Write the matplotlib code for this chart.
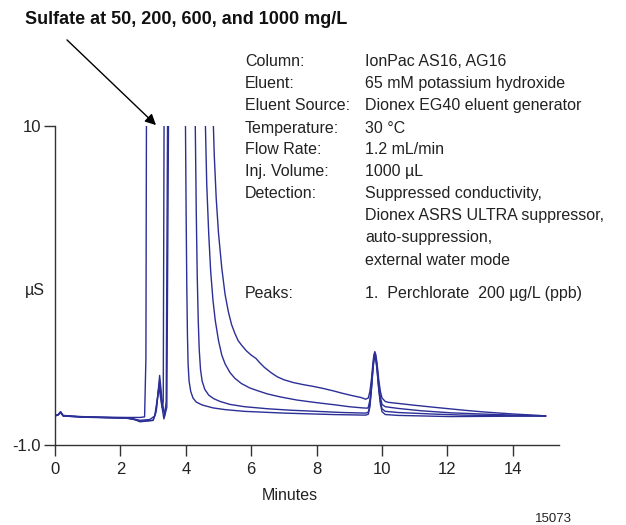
import matplotlib
matplotlib.use('Agg')
import matplotlib.pyplot as plt

plt.rcParams['font.family'] = ['Liberation Sans', 'DejaVu Sans']

# ---- data (minutes, uS) ----
t_1000 = [0.0, 0.1, 0.17, 0.25, 0.8, 1.5, 2.2, 2.6, 2.74, 2.78, 2.8,
          4.80, 4.83, 4.87, 4.93, 5.0, 5.1, 5.2, 5.3, 5.4, 5.5, 5.6, 5.7,
          5.85, 6.0, 6.15, 6.25, 6.4, 6.6, 6.8, 7.0, 7.3, 7.6, 7.9, 8.2,
          8.5, 8.8, 9.1, 9.35, 9.5, 9.58, 9.63, 9.68, 9.72, 9.75, 9.78,
          9.81, 9.85, 9.9, 9.95, 10.0, 10.1, 10.2, 10.6, 11.0, 11.6, 12.5,
          13.1, 14.0, 14.8, 15.0]
y_1000 = [0.02, 0.05, 0.15, 0.02, -0.02, -0.04, -0.05, -0.05, -0.03, 2.0, 12,
          12, 10.5, 9.0, 7.5, 6.3, 5.1, 4.2, 3.6, 3.15, 2.85, 2.6, 2.45,
          2.25, 2.1, 1.98, 1.85, 1.68, 1.5, 1.35, 1.25, 1.15, 1.08, 1.02, 0.95,
          0.87, 0.78, 0.7, 0.64, 0.58, 0.62, 0.85, 1.3, 1.8, 2.1, 2.22,
          2.12, 1.8, 1.25, 0.85, 0.62, 0.5, 0.47, 0.42, 0.37, 0.3, 0.2,
          0.14, 0.07, 0.02, 0.0]

t_600 = [0.0, 0.1, 0.17, 0.25, 0.8, 1.5, 2.2, 2.4, 2.6, 2.9, 3.05, 3.13,
         3.2, 3.27, 3.31, 3.34, 4.57, 4.60, 4.64, 4.7, 4.76, 4.83, 4.9,
         5.0, 5.1, 5.2, 5.35, 5.5, 5.7, 5.95, 6.2, 6.5, 6.88, 7.4, 8.0,
         8.6, 9.0, 9.4, 9.55, 9.58, 9.63, 9.68, 9.72, 9.75, 9.78, 9.81,
         9.85, 9.9, 9.95, 10.0, 10.1, 10.5, 11.2, 12.1, 13.0, 14.0, 15.0]
y_600 = [0.0, 0.04, 0.13, 0.0, -0.03, -0.05, -0.07, -0.1, -0.15, -0.12, 0.0, 0.6,
         1.2, 0.3, 0.5, 12, 12, 10, 8.0, 6.3, 5.0, 4.0, 3.3,
         2.6, 2.1, 1.8, 1.5, 1.3, 1.12, 0.97, 0.87, 0.76, 0.66, 0.55, 0.46,
         0.38, 0.32, 0.28, 0.27, 0.3, 0.55, 1.1, 1.65, 2.0, 2.15, 2.05,
         1.7, 1.1, 0.65, 0.4, 0.32, 0.26, 0.18, 0.11, 0.07, 0.03, 0.0]

t_200 = [0.0, 0.1, 0.17, 0.25, 0.8, 1.5, 2.2, 2.4, 2.6, 3.0, 3.1, 3.2,
         3.27, 3.35, 3.4, 3.45, 4.26, 4.29, 4.32, 4.35, 4.38, 4.41, 4.45,
         4.5, 4.58, 4.7, 4.85, 5.05, 5.35, 5.8, 6.5, 7.2, 8.0, 8.8, 9.5,
         9.58, 9.63, 9.68, 9.72, 9.75, 9.78, 9.81, 9.85, 9.9, 9.95, 10.0,
         10.1, 10.5, 11.5, 12.5, 15.0]
y_200 = [0.01, 0.05, 0.14, 0.01, -0.03, -0.05, -0.07, -0.1, -0.2, -0.15, 0.2, 1.4,
         0.6, 0.0, 0.5, 12, 12, 10, 7.0, 4.8, 3.3, 2.3, 1.6,
         1.2, 0.92, 0.72, 0.6, 0.5, 0.4, 0.32, 0.25, 0.2, 0.16, 0.12, 0.1,
         0.13, 0.4, 1.0, 1.6, 1.95, 2.1, 2.0, 1.6, 0.95, 0.5, 0.25,
         0.16, 0.12, 0.07, 0.03, 0.0]

t_50 = [0.0, 0.1, 0.17, 0.25, 0.8, 1.5, 2.2, 2.4, 2.6, 3.0, 3.08, 3.18,
        3.26, 3.33, 3.42, 3.48, 3.96, 3.99, 4.01, 4.03, 4.05, 4.07, 4.1,
        4.15, 4.22, 4.32, 4.5, 4.83, 5.2, 5.8, 7.0, 8.5, 9.5, 9.58, 9.63,
        9.68, 9.72, 9.75, 9.78, 9.81, 9.85, 9.9, 9.95, 10.0, 10.1, 10.5,
        12.1, 15.0]
y_50 = [0.0, 0.04, 0.12, 0.0, -0.04, -0.06, -0.08, -0.12, -0.18, -0.15, 0.1, 1.0,
        0.4, -0.1, 0.3, 12, 12, 10, 7.0, 4.5, 2.8, 1.8, 1.2,
        0.85, 0.62, 0.48, 0.38, 0.28, 0.22, 0.16, 0.1, 0.05, 0.03, 0.06, 0.32,
        0.95, 1.55, 1.9, 2.05, 1.95, 1.55, 0.9, 0.42, 0.15, 0.05, 0.02,
        -0.02, 0.0]

traces = [(t_50, y_50), (t_200, y_200), (t_600, y_600), (t_1000, y_1000)]

x_ticks = [0, 2, 4, 6, 8, 10, 12, 14]
y_ticks = [-1.0, 10]
y_tick_labels = ['-1.0', '10']

info_labels = ['Column:', 'Eluent:', 'Eluent Source:', 'Temperature:', 'Flow Rate:',
               'Inj. Volume:', 'Detection:', '', '', '', 'Peaks:']
info_values = ['IonPac AS16, AG16', '65 mM potassium hydroxide',
               'Dionex EG40 eluent generator', '30 °C', '1.2 mL/min', '1000 µL',
               'Suppressed conductivity,', 'Dionex ASRS ULTRA suppressor,',
               'auto-suppression,', 'external water mode',
               '1.  Perchlorate  200 µg/L (ppb)']
info_y = [60, 82, 104, 127, 148, 170, 192, 214, 236, 259, 292]

# ---- figure ----
W, H = 626, 525
fig = plt.figure(figsize=(W / 100, H / 100), dpi=100)
ax = fig.add_axes([55 / W, 80 / H, 503.6 / W, 319 / H])

line_color = '#2b2f96'
for t, y in traces:
    ax.plot(t, y, color=line_color, lw=1.0)

ax.set_xlim(0, 15.4)
ax.set_ylim(-1.0, 10)
ax.spines['top'].set_visible(False)
ax.spines['right'].set_visible(False)
for s in ['left', 'bottom']:
    ax.spines[s].set_color('#333333')
    ax.spines[s].set_linewidth(1.0)

ax.set_xticks(x_ticks)
ax.set_xticklabels([str(v) for v in x_ticks])
ax.set_yticks(y_ticks)
ax.set_yticklabels(y_tick_labels)
ax.tick_params(axis='both', direction='out', length=8, width=1.0,
               color='#333333', labelsize=12, labelcolor='#222222', pad=2)
ax.tick_params(axis='x', pad=4)

fs = 11.5
# axis labels
fig.text(35 / W, 1 - 290 / H, 'µS', fontsize=fs, color='#222222',
         ha='center', va='center')
fig.text(290 / W, 1 - 495 / H, 'Minutes', fontsize=fs, color='#222222',
         ha='center', va='center')
fig.text(553 / W, 1 - 519 / H, '15073', fontsize=9.5, color='#222222',
         ha='center', va='center')

# title and arrow
fig.text(25 / W, 1 - 24 / H, 'Sulfate at 50, 200, 600, and 1000 mg/L',
         fontsize=13, fontweight='bold', color='#111111', ha='left', va='baseline')
ax.annotate('', xy=(158, H - 127), xycoords='figure pixels',
            xytext=(65, H - 38), textcoords='figure pixels',
            arrowprops=dict(arrowstyle='-|>', color='black', lw=1.0,
                            mutation_scale=16))

# conditions block
for lab, val, yy in zip(info_labels, info_values, info_y):
    if lab:
        fig.text(245 / W, 1 - (yy + 6) / H, lab, fontsize=fs, color='#222222',
                 ha='left', va='baseline')
    fig.text(365 / W, 1 - (yy + 6) / H, val, fontsize=fs, color='#222222',
             ha='left', va='baseline')

fig.savefig('out.png', dpi=100)
